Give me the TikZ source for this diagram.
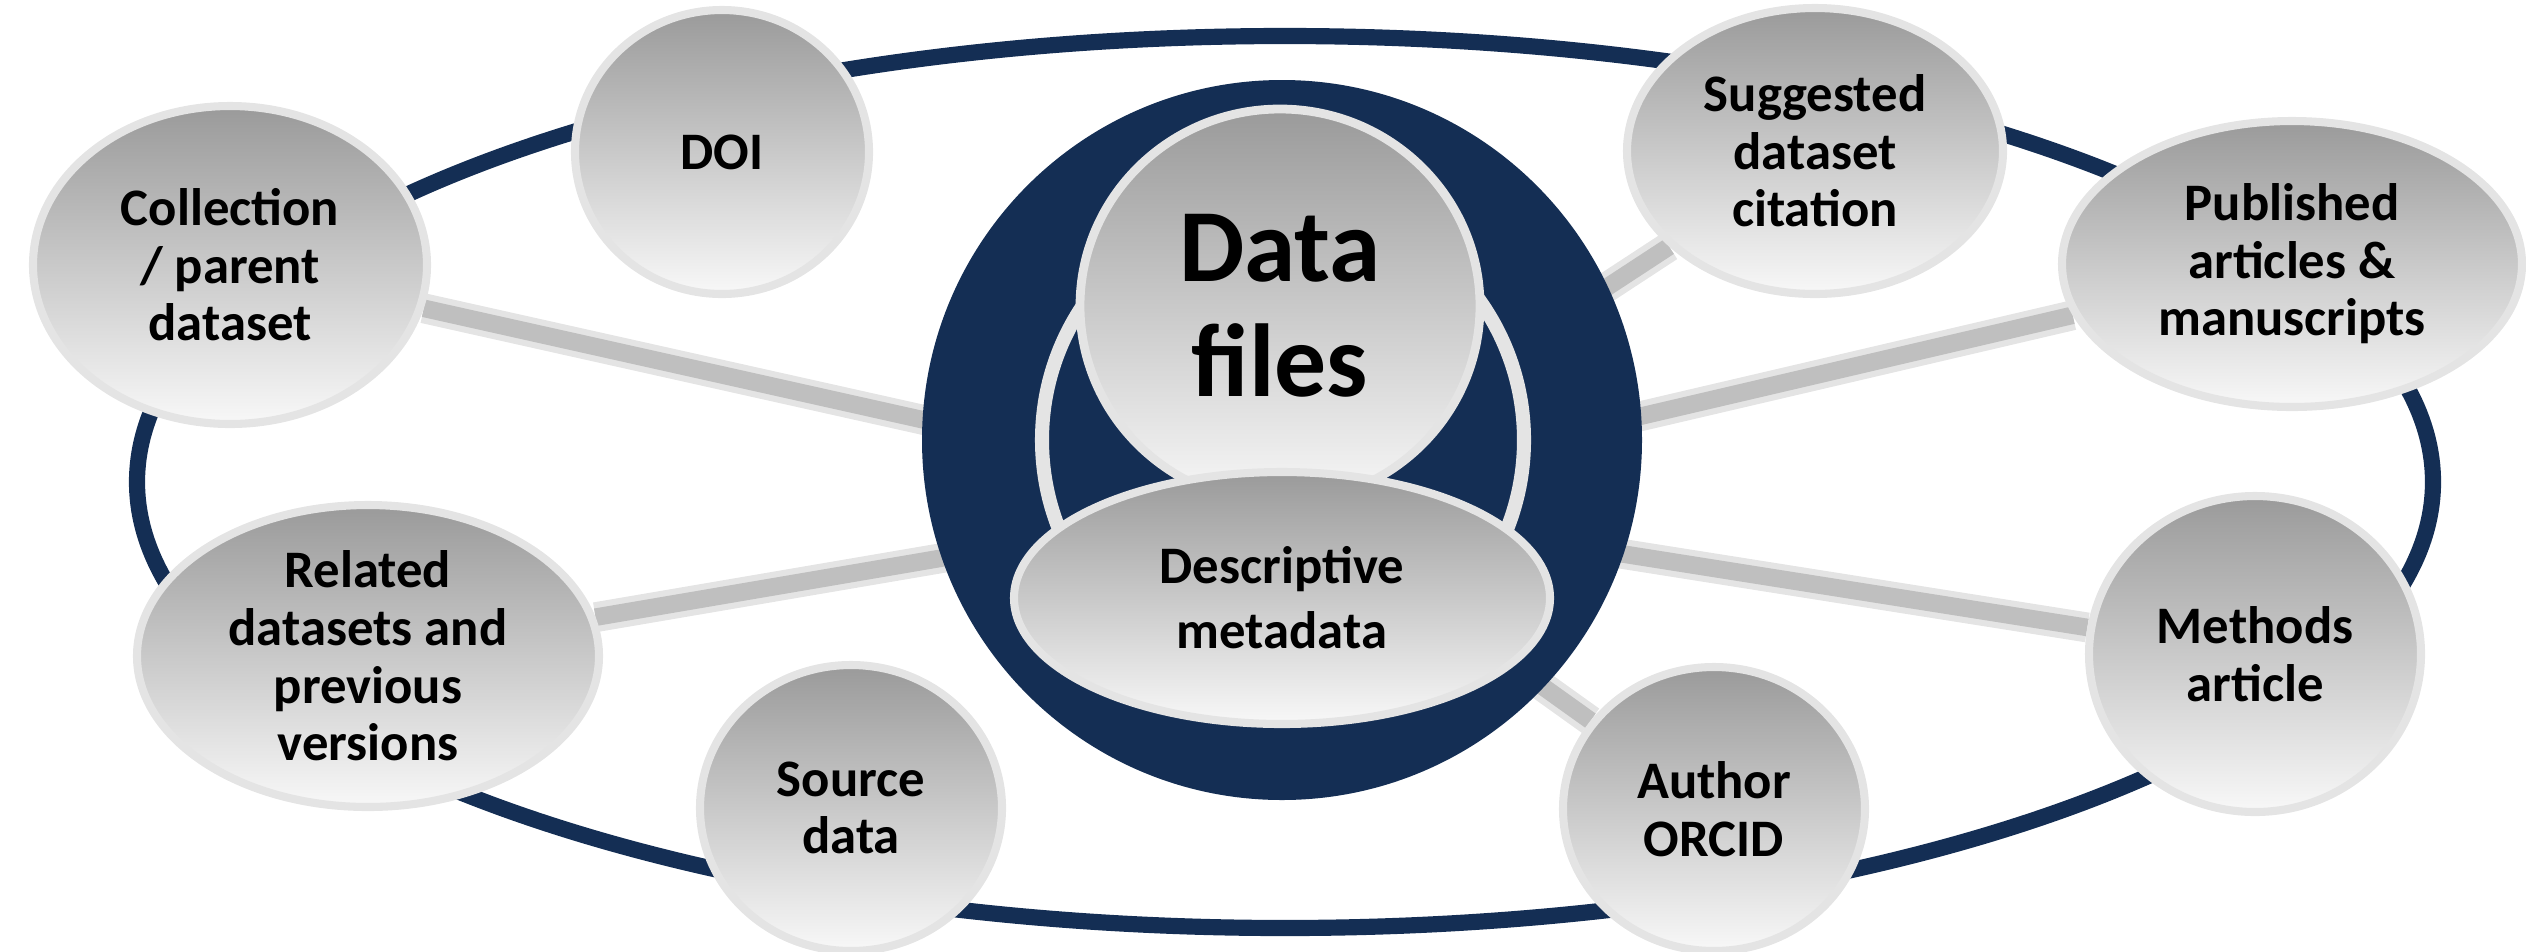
\documentclass[tikz,border=0pt]{standalone}
\usepackage{fontspec}
\setmainfont{Carlito}
\usetikzlibrary{shapes.geometric}
\definecolor{navy}{HTML}{142E54}
\definecolor{bubbletop}{HTML}{9A9A9A}
\definecolor{bubblebot}{HTML}{F8F8F8}
\definecolor{rim}{HTML}{E4E4E4}
\pgfdeclarelayer{back}
\pgfdeclarelayer{middle}
\pgfsetlayers{back,middle,main}

\begin{document}
\begin{tikzpicture}[
x=0.1mm, y=-0.1mm,
bubble/.style={draw=rim, line width=2.3pt, ellipse, inner sep=0pt,
top color=bubbletop, bottom color=bubblebot, align=center,
font=\bfseries\fontsize{15}{16.4}\selectfont},
tube/.style={line width=8.5pt, draw=rim},
tubecore/.style={line width=5pt, draw=gray!50}
]
\useasboundingbox (0,0) rectangle (2526,951);

\node[bubble, minimum width=29.4mm, minimum height=28.4mm] (doi) at (722,152) {DOI};
\node[bubble, minimum width=39.4mm, minimum height=31.8mm] (coll) at (230,265) {Collection\\/ parent\\dataset};
\node[bubble, minimum width=37.6mm, minimum height=28.6mm] (sugg) at (1815,151) {Suggested\\dataset\\citation};
\node[bubble, minimum width=46mm, minimum height=28.6mm] (publ) at (2292,264) {Published\\articles \&\\manuscripts};
\node[bubble, minimum width=46.2mm, minimum height=30.2mm] (rel) at (368,656) {Related\\datasets and\\previous\\versions};
\node[bubble, minimum width=30.2mm, minimum height=28.6mm] (src) at (851,808) {Source\\data};
\node[bubble, minimum width=30.2mm, minimum height=28.4mm] (auth) at (1714,809) {Author\\ORCID};
\node[bubble, minimum width=33.2mm, minimum height=31.6mm] (meth) at (2255,654) {Methods\\article};
\coordinate (hub) at (1282,500);

% ring and links behind everything
\begin{pgfonlayer}{back}
\draw[navy, line width=4.6pt] (1285,482) ellipse [x radius=1148, y radius=446];
\foreach \s in {coll,rel,sugg,publ,meth,auth}{
  \draw[tube] (\s) -- (hub);
  \draw[tubecore] (\s) -- (hub);
}
\end{pgfonlayer}

% the core
\begin{pgfonlayer}{middle}
\fill[navy] (1282,440) circle [radius=360];
\draw[rim, line width=4pt] (1283,440) circle [radius=241];
\node[bubble, minimum width=40mm, minimum height=39.4mm, line width=2.5pt,
  font=\bfseries\fontsize{29.5}{32.7}\selectfont] (data) at (1280,306) {Data\\files};
\node[bubble, minimum width=53.6mm, minimum height=25.2mm,
  font=\bfseries\fontsize{15}{18.5}\selectfont] (desc) at (1282,598) {Descriptive\\metadata};
\end{pgfonlayer}

\end{tikzpicture}
\end{document}
